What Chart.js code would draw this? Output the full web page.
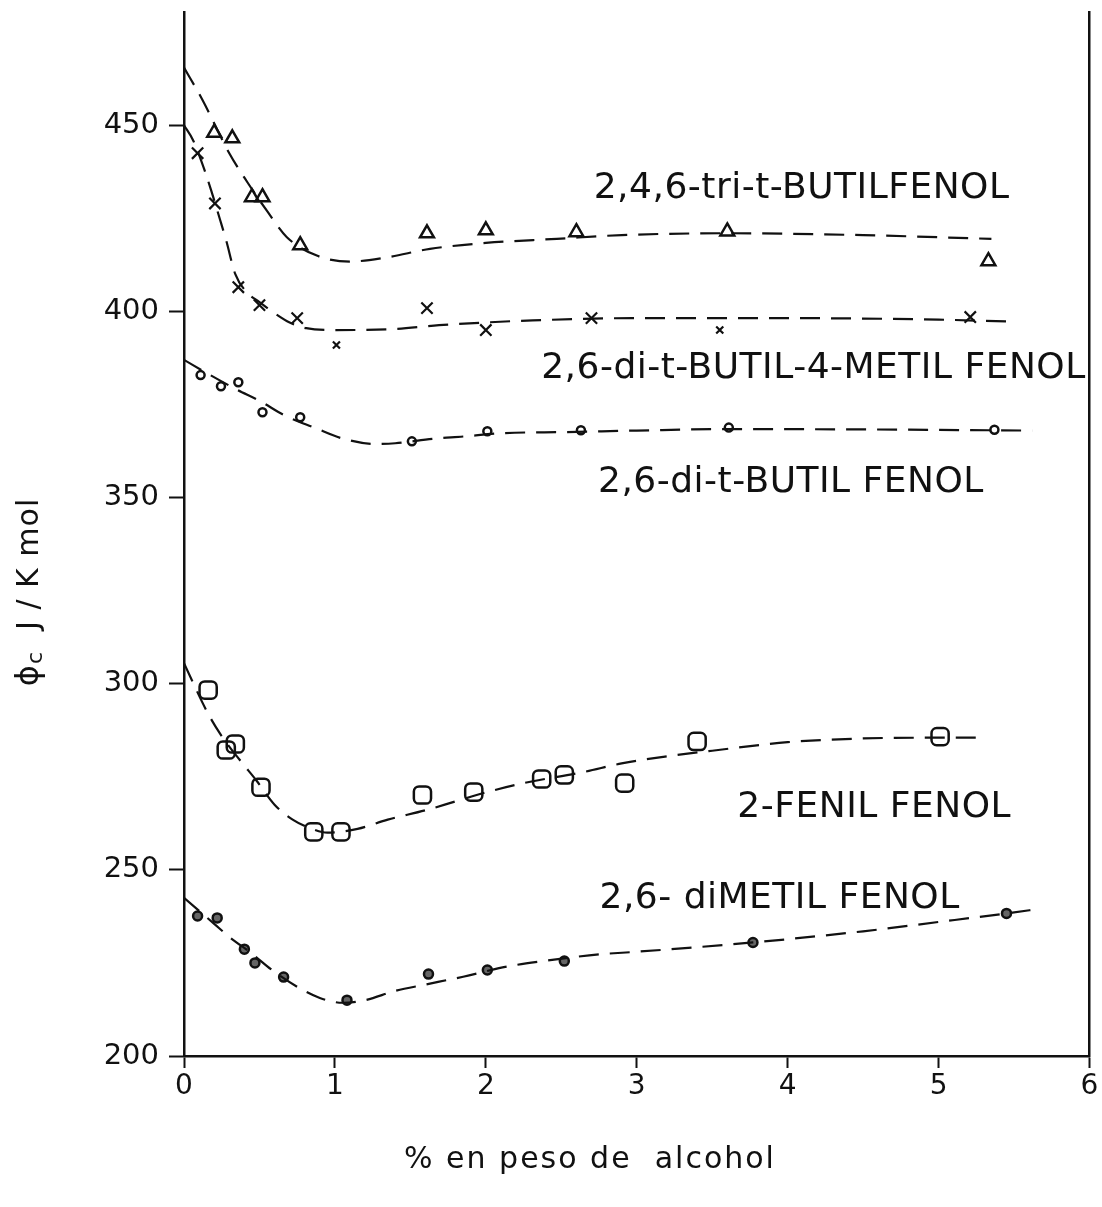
<!DOCTYPE html>
<html>
<head>
<meta charset="utf-8">
<script src="https://cdn.jsdelivr.net/npm/chart.js@4.4.1/dist/chart.umd.min.js"></script>
<style>
  html, body { margin: 0; padding: 0; background: #fff; }
</style>
</head>
<body>
<canvas id="myChart" width="1102" height="1207"></canvas>
<script>
// measured points: % en peso de alcohol (x) vs heat capacity (y)
const triX = [0.2, 0.32, 0.45, 0.52, 0.77, 1.61, 2.0, 2.6, 3.6, 5.33];
const triY = [448, 446.5, 430.7, 430.7, 417.8, 421, 421.8, 421.3, 421.5, 413.5];

const metX = [0.09, 0.205, 0.36, 0.5, 0.75, 1.01, 1.61, 2.0, 2.7, 3.55, 5.21];
const metY = [442.5, 429, 406.5, 401.7, 398.2, 391, 400.9, 395, 398.2, 395, 398.5];

const butX = [0.11, 0.245, 0.36, 0.52, 0.77, 1.51, 2.01, 2.63, 3.61, 5.37];
const butY = [382.9, 379.9, 381, 372.9, 371.6, 365.1, 367.8, 368.1, 368.8, 368.2];

const fenX = [0.16, 0.28, 0.34, 0.51, 0.86, 1.04, 1.58, 1.92, 2.37, 2.52, 2.92, 3.4, 5.01];
const fenY = [298.3, 282.2, 283.8, 272.2, 260.2, 260.2, 270.1, 270.9, 274.4, 275.5, 273.3, 284.5, 285.8];

const dmeX = [0.09, 0.22, 0.40, 0.47, 0.66, 1.08, 1.62, 2.01, 2.52, 3.77, 5.45];
const dmeY = [237.6, 237.1, 228.7, 225, 221.2, 215, 222, 223.1, 225.5, 230.5, 238.3];

// hand-drawn fit curves (dashed)
const triFitX = [0, 0.12, 0.3, 0.42, 0.55, 0.68, 0.88, 1.1, 1.34, 1.63, 2.0, 2.47, 2.9, 3.6, 4.5, 5.35];
const triFitY = [465.5, 457, 442.5, 434.7, 427, 420, 415, 413.4, 414.5, 416.8, 418.4, 419.5, 420.5, 421, 420.5, 419.5];

const metFitX = [0, 0.06, 0.14, 0.18, 0.24, 0.28, 0.34, 0.42, 0.5, 0.6, 0.7, 0.81, 1.0, 1.4, 1.69, 1.98, 2.31, 2.97, 4.0, 5.0, 5.46];
const metFitY = [450, 446, 437.5, 432.5, 424.5, 419, 410, 405, 402.5, 399.5, 397, 395.5, 395, 395.3, 396.3, 397, 397.6, 398.2, 398.2, 397.8, 397.3];

const butFitX = [0, 0.17, 0.35, 0.5, 0.67, 0.87, 1.04, 1.27, 1.4, 1.65, 1.85, 2.11, 2.53, 3.0, 3.6, 4.5, 5.62];
const butFitY = [387, 383, 379, 376, 372, 368.7, 366, 364.4, 364.6, 365.8, 366.4, 367.3, 367.6, 368, 368.4, 368.3, 368];

const fenFitX = [0, 0.15, 0.24, 0.37, 0.48, 0.6, 0.72, 0.85, 0.95, 1.15, 1.35, 1.6, 1.8, 2.0, 2.25, 2.65, 2.9, 3.2, 3.5, 4.0, 4.5, 5.0, 5.25];
const fenFitY = [305.5, 292.7, 286.5, 279.5, 274, 267.5, 263.5, 261, 260, 261, 263.5, 266, 268.4, 270.8, 273.3, 276.3, 278.6, 280.5, 282, 284.3, 285.3, 285.5, 285.5];

const dmeFitX = [0, 0.2, 0.3, 0.45, 0.58, 0.75, 0.9, 1.05, 1.2, 1.4, 1.6, 1.85, 2.15, 2.4, 2.75, 3.0, 3.77, 4.5, 5.0, 5.45, 5.68];
const dmeFitY = [242.5, 235.5, 232, 227.5, 223.2, 218.6, 215.6, 214.3, 215, 217.5, 219.2, 221.3, 224.1, 225.6, 227.3, 228, 230.5, 233.5, 236, 238.3, 239.6];

const curveNames = ['2,4,6-tri-t-BUTILFENOL', '2,6-di-t-BUTIL-4-METIL FENOL', '2,6-di-t-BUTIL FENOL', '2-FENIL FENOL', '2,6- diMETIL FENOL'];

const xTicks = [0, 1, 2, 3, 4, 5, 6];
const yTicks = [200, 250, 300, 350, 400, 450];

const pts = (xs, ys) => xs.map((v, i) => ({ x: v, y: ys[i] }));

const FONT = '"DejaVu Sans", sans-serif';

function fit(xs, ys) {
  return {
    data: pts(xs, ys),
    showLine: true,
    borderColor: '#111',
    borderWidth: 2.2,
    borderDash: [20, 11],
    cubicInterpolationMode: 'monotone',
    pointRadius: 0,
    fill: false
  };
}

function marks(xs, ys, style, radius, fillColor) {
  return {
    data: pts(xs, ys),
    showLine: false,
    pointStyle: style,
    pointRadius: radius,
    pointBorderWidth: 2.5,
    pointBorderColor: '#111',
    pointBackgroundColor: fillColor || 'rgba(0,0,0,0)'
  };
}

// curve names, right edge in x units and vertical centre in y units
const nameRight = [5.47, 5.975, 5.30, 5.48, 5.14];
const nameMid = [433, 384.7, 353.9, 266.6, 242.4];

const textPlugin = {
  id: 'plotText',
  afterDraw(chart) {
    const { ctx, scales: { x, y } } = chart;
    ctx.save();
    ctx.fillStyle = '#111';
    ctx.textBaseline = 'middle';

    ctx.font = '36px ' + FONT;
    ctx.letterSpacing = '0.5px';
    ctx.textAlign = 'right';
    curveNames.forEach((t, i) => {
      ctx.fillText(t, x.getPixelForValue(nameRight[i]), y.getPixelForValue(nameMid[i]));
    });

    // x axis title
    ctx.font = '30px ' + FONT;
    ctx.letterSpacing = '2px';
    ctx.textAlign = 'center';
    ctx.fillText('% en peso de  alcohol', 590, 1160);

    // y axis title, phi with subscript c
    ctx.translate(30, 592);
    ctx.rotate(-Math.PI / 2);
    ctx.textAlign = 'left';
    ctx.font = '32px ' + FONT;
    const rest = '  J / K mol';
    ctx.letterSpacing = '1px';
    const wPhi = ctx.measureText('ϕ').width;
    ctx.font = '30px ' + FONT;
    const wRest = ctx.measureText(rest).width;
    ctx.font = '22px ' + FONT;
    const wC = ctx.measureText('c').width;
    const start = -(wPhi + wC + wRest) / 2;
    ctx.font = '32px ' + FONT;
    ctx.fillText('ϕ', start, 0);
    ctx.font = '22px ' + FONT;
    ctx.fillText('c', start + wPhi, 6);
    ctx.font = '30px ' + FONT;
    ctx.fillText(rest, start + wPhi + wC, 0);
    ctx.restore();
  }
};

// keep the plot frame running up to the top edge of the canvas
const noPad = s => { s.paddingTop = 0; s.paddingBottom = 0; };

const ctx = document.getElementById('myChart').getContext('2d');
const myChart = new Chart(ctx, {
  type: 'scatter',
  data: {
    datasets: [
      fit(triFitX, triFitY),
      fit(metFitX, metFitY),
      fit(butFitX, butFitY),
      fit(fenFitX, fenFitY),
      fit(dmeFitX, dmeFitY),
      marks(triX, triY, 'triangle', 8),
      Object.assign(marks(metX, metY, 'crossRot', 8), {
        pointRadius: c => (c.dataIndex === 5 || c.dataIndex === 9) ? 5 : 8,
        pointBorderWidth: 2.2
      }),
      marks(butX, butY, 'circle', 4),
      marks(fenX, fenY, 'rectRounded', 10),
      marks(dmeX, dmeY, 'circle', 4.5, '#666')
    ]
  },
  options: {
    responsive: false,
    devicePixelRatio: 1,
    animation: false,
    layout: { padding: 0 },
    plugins: {
      legend: { display: false },
      tooltip: { enabled: false }
    },
    scales: {
      x: {
        type: 'linear',
        min: 0,
        max: 6,
        afterBuildTicks: s => { s.ticks = xTicks.map(v => ({ value: v })); },
        afterFit: s => { s.height = 151; },
        border: { display: true, color: '#111', width: 2.5 },
        grid: { drawOnChartArea: false, drawTicks: true, tickLength: 12, tickColor: '#111', tickWidth: 2 },
        ticks: { color: '#111', padding: 2, font: { family: FONT, size: 28 } }
      },
      y: {
        type: 'linear',
        min: 200,
        max: 480.3,
        afterBuildTicks: s => { s.ticks = yTicks.map(v => ({ value: v })); },
        afterFit: s => { s.width = 184; noPad(s); },
        border: { display: true, color: '#111', width: 2.5 },
        grid: { drawOnChartArea: false, drawTicks: true, tickLength: 15, tickColor: '#111', tickWidth: 2 },
        ticks: { color: '#111', padding: 10, font: { family: FONT, size: 29 } }
      },
      yRight: {
        type: 'linear',
        position: 'right',
        min: 200,
        max: 480.3,
        afterFit: s => { s.width = 10; noPad(s); },
        border: { display: true, color: '#111', width: 2.5 },
        grid: { display: false },
        ticks: { display: false }
      }
    }
  },
  plugins: [textPlugin]
});
</script>
</body>
</html>
